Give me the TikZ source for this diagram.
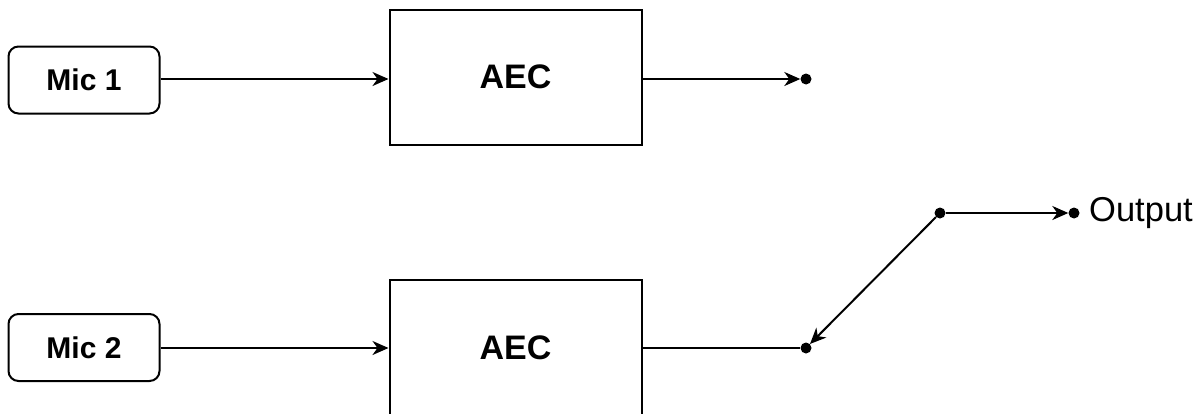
\documentclass[tikz,border=0pt]{standalone}
\usepackage{fontspec}
\setmainfont{Liberation Sans}
\usetikzlibrary{arrows.meta}
\begin{document}
\begin{tikzpicture}[x=1pt,y=-1pt,
  micbox/.style={draw,line width=2pt,rounded corners=10pt,minimum width=151pt,minimum height=67pt,inner sep=0pt,font=\fontsize{30}{32}\selectfont\bfseries},
  aecbox/.style={draw,line width=2pt,minimum width=252pt,minimum height=135pt,inner sep=0pt,font=\fontsize{34}{37}\selectfont\bfseries},
  dotnode/.style={circle,fill=black,inner sep=0pt,minimum size=11pt},
  conn/.style={line width=2pt,-{Stealth[length=16pt,width=14pt,inset=5pt]}}]
\useasboundingbox (0,0) rectangle (1204,413);
\node[micbox] (m1) at (84,80) {Mic 1};
\node[micbox] (m2) at (84,347.5) {Mic 2};
\node[aecbox] (a1) at (515.5,77) {AEC};
\node[aecbox] (a2) at (515.5,347.5) {AEC};
\node[dotnode] (d1) at (806,79) {};
\node[dotnode] (d2) at (806,348) {};
\node[dotnode] (d3) at (940,213) {};
\node[dotnode] (d4) at (1074,213) {};
\node[anchor=west,inner sep=0pt,font=\fontsize{34.5}{38}\selectfont] (out) at (1089,213) {Output};
\draw[conn] (m1.east |- 0,79) -- (a1.west |- 0,79);
\draw[conn] (m2.east |- 0,348) -- (a2.west |- 0,348);
\draw[conn] (a1.east |- d1) -- (d1);
\draw[line width=2pt] (a2.east |- d2) -- (d2);
\draw[conn] (d3) -- (d2);
\draw[conn] (d3) -- (d4);
\end{tikzpicture}
\end{document}
